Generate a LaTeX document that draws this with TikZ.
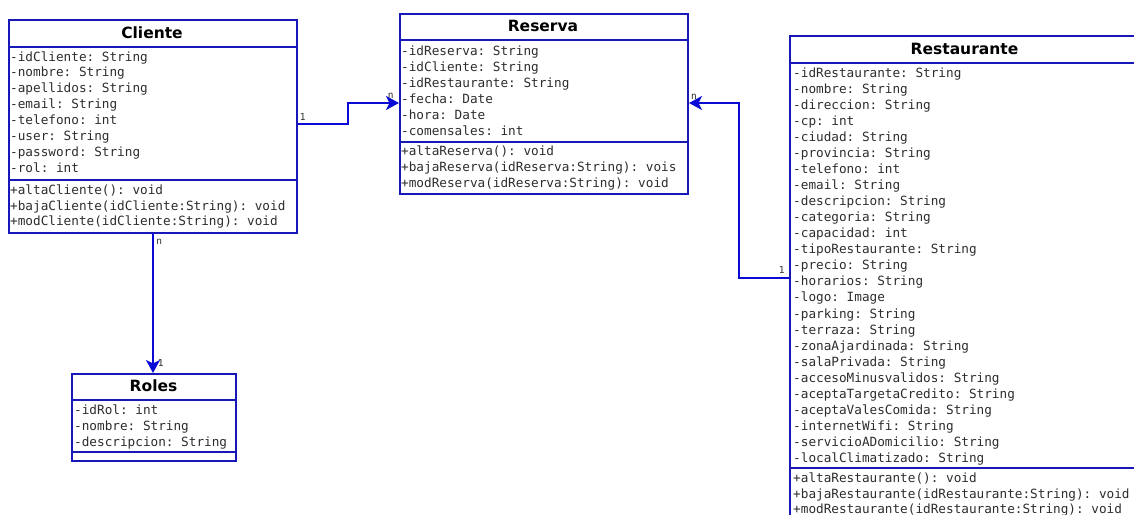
\documentclass[tikz,border=0pt]{standalone}
\usepackage{fontspec}
\setmainfont{DejaVu Sans}
\setmonofont{DejaVu Sans Mono}
\usetikzlibrary{arrows.meta}
\definecolor{boxblue}{RGB}{24,24,185}
\definecolor{linkblue}{RGB}{10,10,215}
\definecolor{txtgray}{RGB}{45,45,45}
\begin{document}
\begin{tikzpicture}[x=1pt,y=-1pt,
  classbox/.style={draw=boxblue, line width=2pt, fill=white, inner sep=0pt, anchor=north west},
  sepline/.style={draw=boxblue, line width=2pt},
  ctitle/.style={font=\fontsize{15.5}{18}\selectfont\bfseries, anchor=base, inner sep=0pt, text=black},
  member/.style={font=\ttfamily\fontsize{12.7}{15}\selectfont, anchor=base west, inner sep=0pt, text=txtgray},
  link/.style={draw=linkblue, line width=2pt, -{Stealth[length=13pt,width=14pt,inset=3.5pt]}},
  mult/.style={font=\ttfamily\fontsize{9.5}{11}\selectfont, anchor=base, inner sep=0pt, text=txtgray}]
\useasboundingbox (0,0) rectangle (1134,514);
\clip (0,0) rectangle (1134,514);
\fill[white] (0,0) rectangle (1134,514);

% ---------- Cliente ----------
\node[classbox, minimum width=288pt, minimum height=213pt] (cliente) at (8,19) {};
\draw[sepline] (cliente.west |- 0,47) -- (cliente.east |- 0,47);
\draw[sepline] (cliente.west |- 0,180) -- (cliente.east |- 0,180);
\node[ctitle] (cliente-t) at (152,38.3) {Cliente};
\foreach \txt [count=\i] in {-idCliente: String,-nombre: String,-apellidos: String,-email: String,-telefono: int,-user: String,-password: String,-rol: int}
  \node[member] (cli-a\i) at (10,{61+(\i-1)*15.9}) {\txt};
\foreach \txt [count=\i] in {+altaCliente(): void,+bajaCliente(idCliente:String): void,+modCliente(idCliente:String): void}
  \node[member] (cli-m\i) at (10,{194.5+(\i-1)*15.6}) {\txt};

% ---------- Reserva ----------
\node[classbox, minimum width=288pt, minimum height=180pt] (reserva) at (399,13) {};
\draw[sepline] (reserva.west |- 0,40) -- (reserva.east |- 0,40);
\draw[sepline] (reserva.west |- 0,142) -- (reserva.east |- 0,142);
\node[ctitle] (reserva-t) at (543,31.7) {Reserva};
\foreach \txt [count=\i] in {-idReserva: String,-idCliente: String,-idRestaurante: String,-fecha: Date,-hora: Date,-comensales: int}
  \node[member] (res-a\i) at (401,{55+(\i-1)*16.05}) {\txt};
\foreach \txt [count=\i] in {+altaReserva(): void,+bajaReserva(idReserva:String): vois,+modReserva(idReserva:String): void}
  \node[member] (res-m\i) at (401,{155+(\i-1)*16.1}) {\txt};

% ---------- Restaurante ----------
\node[classbox, minimum width=351pt, minimum height=505pt] (restaurante) at (789,35) {};
\draw[sepline] (restaurante.west |- 0,63) -- (restaurante.east |- 0,63);
\draw[sepline] (restaurante.west |- 0,468) -- (restaurante.east |- 0,468);
\node[ctitle] (restaurante-t) at (964.5,54) {Restaurante};
\foreach \txt [count=\i] in {-idRestaurante: String,-nombre: String,-direccion: String,-cp: int,-ciudad: String,-provincia: String,-telefono: int,-email: String,-descripcion: String,-categoria: String,-capacidad: int,-tipoRestaurante: String,-precio: String,-horarios: String,-logo: Image,-parking: String,-terraza: String,-zonaAjardinada: String,-salaPrivada: String,-accesoMinusvalidos: String,-aceptaTargetaCredito: String,-aceptaValesComida: String,-internetWifi: String,-servicioADomicilio: String,-localClimatizado: String}
  \node[member] (rst-a\i) at (793,{77+(\i-1)*16.07}) {\txt};
\foreach \txt [count=\i] in {+altaRestaurante(): void,+bajaRestaurante(idRestaurante:String): void,+modRestaurante(idRestaurante:String): void}
  \node[member] (rst-m\i) at (793,{482.6+(\i-1)*15.5}) {\txt};

% ---------- Roles ----------
\node[classbox, minimum width=164pt, minimum height=87pt] (roles) at (71,373) {};
\draw[sepline] (roles.west |- 0,400) -- (roles.east |- 0,400);
\draw[sepline] (roles.west |- 0,452) -- (roles.east |- 0,452);
\node[ctitle] (roles-t) at (153.5,391.7) {Roles};
\foreach \txt [count=\i] in {-idRol: int,-nombre: String,-descripcion: String}
  \node[member] (rol-a\i) at (74,{414.3+(\i-1)*15.85}) {\txt};

% ---------- Connectors ----------
\draw[link] (cliente.east |- 0,124) -- (348,124) -- (348,103) -- (reserva.west |- 0,103);
\node[mult] (m1) at (302.7,120.7) {1};
\node[mult] (m2) at (390.7,98.3) {n};

\draw[link] (restaurante.west |- 0,278) -- (739,278) -- (739,103) -- (reserva.east |- 0,103);
\node[mult] (m3) at (781.7,273.3) {1};
\node[mult] (m4) at (694,99) {n};

\draw[link] (153,0 |- cliente.south) -- (153,0 |- roles.north);
\node[mult] (m5) at (159.3,244.3) {n};
\node[mult] (m6) at (160.7,366) {1};
\end{tikzpicture}
\end{document}
